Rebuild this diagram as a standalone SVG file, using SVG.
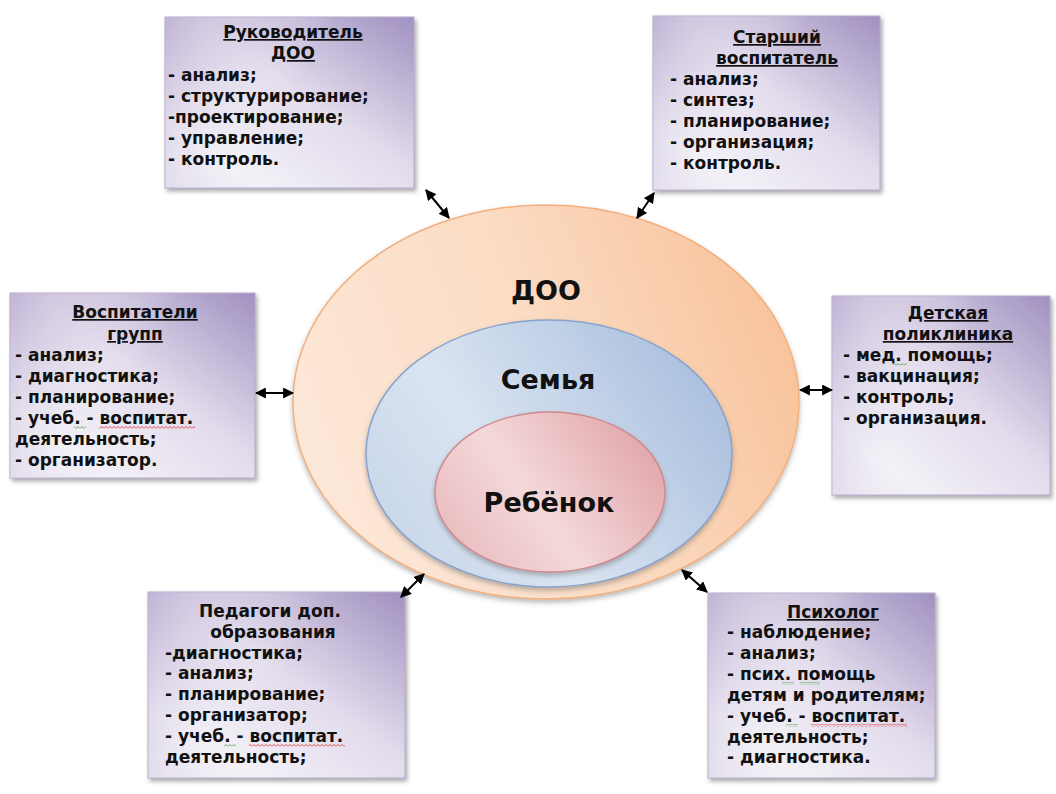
<svg xmlns="http://www.w3.org/2000/svg" width="1056" height="794" viewBox="0 0 1056 794">
<style>
.box{fill:url(#boxg);stroke:#b7abcd;stroke-width:1}
.boxov{fill:url(#boxl)}
.t{font-family:"DejaVu Sans","Liberation Sans",sans-serif;font-weight:bold;font-size:17px;fill:#111}
.tc{text-anchor:middle}
.u{text-decoration:underline}
.big{font-family:"DejaVu Sans","Liberation Sans",sans-serif;font-weight:bold;font-size:27px;fill:#111;text-anchor:middle}
.conn{stroke:#000;stroke-width:2;fill:none;marker-start:url(#ah);marker-end:url(#ah)}
</style>
<defs>
<linearGradient id="boxg" x1="1" y1="0" x2="0" y2="1">
<stop offset="0" stop-color="#a091c0"/>
<stop offset="0.45" stop-color="#e2dbec"/>
<stop offset="0.8" stop-color="#f3f1f7"/>
<stop offset="1" stop-color="#e7e2ef"/>
</linearGradient>
<linearGradient id="boxl" x1="0" y1="0" x2="1" y2="0.4">
<stop offset="0" stop-color="#bcaed2" stop-opacity="0.9"/>
<stop offset="0.35" stop-color="#d9d2e6" stop-opacity="0.3"/>
<stop offset="0.6" stop-color="#ffffff" stop-opacity="0"/>
</linearGradient>
<linearGradient id="orange" x1="0" y1="0.6" x2="1" y2="0.3">
<stop offset="0" stop-color="#fde8d8"/>
<stop offset="0.5" stop-color="#fbdcc4"/>
<stop offset="1" stop-color="#f8c29a"/>
</linearGradient>
<linearGradient id="blue" x1="0" y1="0.7" x2="1" y2="0.2">
<stop offset="0" stop-color="#c9d7ea"/>
<stop offset="0.35" stop-color="#dae4f1"/>
<stop offset="1" stop-color="#a6bddd"/>
</linearGradient>
<linearGradient id="pink" x1="0" y1="0.7" x2="1" y2="0.2">
<stop offset="0" stop-color="#e9bcbf"/>
<stop offset="0.4" stop-color="#f4d9da"/>
<stop offset="1" stop-color="#e0a2a7"/>
</linearGradient>
<filter id="sh" x="-10%" y="-10%" width="125%" height="125%">
<feDropShadow dx="2" dy="3" stdDeviation="2" flood-color="#666" flood-opacity="0.55"/>
</filter>
<filter id="esh" x="-10%" y="-10%" width="120%" height="125%">
<feDropShadow dx="0" dy="3" stdDeviation="2.5" flood-color="#555" flood-opacity="0.4"/>
</filter>
<marker id="ah" viewBox="0 0 10 10" refX="9" refY="5" markerWidth="11" markerHeight="11" markerUnits="userSpaceOnUse" orient="auto-start-reverse">
<path d="M0,0 L10,5 L0,10 z" fill="#000"/>
</marker>
<pattern id="wr" width="4" height="3" patternUnits="userSpaceOnUse">
<path d="M0,2.5 L2,0.5 L4,2.5" stroke="#e02020" stroke-width="0.8" fill="none"/>
</pattern>
<pattern id="wg" width="4" height="3" patternUnits="userSpaceOnUse">
<path d="M0,2.5 L2,0.5 L4,2.5" stroke="#3a9a3a" stroke-width="0.8" fill="none"/>
</pattern>
</defs>
<rect width="1056" height="794" fill="#ffffff"/>

<g id="node-doo">
<ellipse cx="546" cy="402" rx="253" ry="197" fill="url(#orange)" stroke="#f2b07f" stroke-width="1.5" filter="url(#esh)"/>
<text class="big" x="546" y="300">ДОО</text>
</g>
<g id="node-semya">
<ellipse cx="549" cy="453.5" rx="183" ry="133.5" fill="url(#blue)" stroke="#87a3cc" stroke-width="1.5" filter="url(#esh)"/>
<text class="big" x="548" y="389">Семья</text>
</g>
<g id="node-rebenok">
<ellipse cx="550" cy="492" rx="115" ry="80" fill="url(#pink)" stroke="#cf8a90" stroke-width="1.5" filter="url(#esh)"/>
<text class="big" x="549" y="512">Ребёнок</text>
</g>

<g id="node-rukovoditel">
<rect class="box" x="165" y="17" width="249" height="171" filter="url(#sh)"/>
<rect class="boxov" x="165" y="17" width="249" height="171"/>
<text class="t tc u" x="293" y="38">Руководитель</text>
<text class="t tc u" x="293" y="59">ДОО</text>
<text class="t" x="168" y="81">- анализ;</text>
<text class="t" x="168" y="102">- структурирование;</text>
<text class="t" x="168" y="123">-проектирование;</text>
<text class="t" x="168" y="144">- управление;</text>
<text class="t" x="168" y="165">- контроль.</text>
</g>

<g id="node-starshiy">
<rect class="box" x="653" y="16" width="227" height="174" filter="url(#sh)"/>
<rect class="boxov" x="653" y="16" width="227" height="174"/>
<text class="t tc u" x="777" y="43">Старший</text>
<text class="t tc u" x="777" y="64">воспитатель</text>
<text class="t" x="670" y="85">- анализ;</text>
<text class="t" x="670" y="106">- синтез;</text>
<text class="t" x="670" y="127">- планирование;</text>
<text class="t" x="670" y="148">- организация;</text>
<text class="t" x="670" y="169">- контроль.</text>
</g>

<g id="node-vospitateli">
<rect class="box" x="10" y="293" width="245" height="185" filter="url(#sh)"/>
<rect class="boxov" x="10" y="293" width="245" height="185"/>
<text class="t tc u" x="135" y="318">Воспитатели</text>
<text class="t tc u" x="135" y="340">групп</text>
<text class="t" x="15" y="361">- анализ;</text>
<text class="t" x="15" y="382">- диагностика;</text>
<text class="t" x="15" y="403">- планирование;</text>
<text class="t" x="15" y="424">- учеб. - воспитат.</text>
<text class="t" x="15" y="445">деятельность;</text>
<text class="t" x="15" y="466">- организатор.</text>
<rect x="74" y="426" width="12" height="3" fill="url(#wg)"/>
<rect x="99" y="426" width="96" height="3" fill="url(#wr)"/>
</g>

<g id="node-poliklinika">
<rect class="box" x="832" y="296" width="218" height="199" filter="url(#sh)"/>
<rect class="boxov" x="832" y="296" width="218" height="199"/>
<text class="t tc u" x="948" y="319">Детская</text>
<text class="t tc u" x="948" y="340">поликлиника</text>
<text class="t" x="843" y="361">- мед. помощь;</text>
<text class="t" x="843" y="382">- вакцинация;</text>
<text class="t" x="843" y="403">- контроль;</text>
<text class="t" x="843" y="424">- организация.</text>
<rect x="893" y="363" width="14" height="3" fill="url(#wg)"/>
</g>

<g id="node-pedagogi">
<rect class="box" x="148" y="592" width="257" height="186" filter="url(#sh)"/>
<rect class="boxov" x="148" y="592" width="257" height="186"/>
<text class="t tc" x="270" y="617">Педагоги доп.</text>
<text class="t tc" x="273" y="638">образования</text>
<text class="t" x="165" y="659">-диагностика;</text>
<text class="t" x="165" y="679">- анализ;</text>
<text class="t" x="165" y="700">- планирование;</text>
<text class="t" x="165" y="721">- организатор;</text>
<text class="t" x="165" y="742">- учеб. - воспитат.</text>
<text class="t" x="165" y="763">деятельность;</text>
<rect x="224" y="744" width="12" height="3" fill="url(#wg)"/>
<rect x="249" y="744" width="96" height="3" fill="url(#wr)"/>
</g>

<g id="node-psiholog">
<rect class="box" x="708" y="593" width="227" height="185" filter="url(#sh)"/>
<rect class="boxov" x="708" y="593" width="227" height="185"/>
<text class="t tc u" x="833" y="618">Психолог</text>
<text class="t" x="727" y="638">- наблюдение;</text>
<text class="t" x="727" y="659">- анализ;</text>
<text class="t" x="727" y="680">- псих. помощь</text>
<text class="t" x="727" y="701">детям и родителям;</text>
<text class="t" x="727" y="722">- учеб. - воспитат.</text>
<text class="t" x="727" y="743">деятельность;</text>
<text class="t" x="727" y="763">- диагностика.</text>
<rect x="782" y="682" width="12" height="3" fill="url(#wg)"/>
<rect x="800" y="682" width="20" height="3" fill="url(#wg)"/>
<rect x="786" y="724" width="12" height="3" fill="url(#wg)"/>
<rect x="811" y="724" width="96" height="3" fill="url(#wr)"/>
</g>

<g id="connectors">
<line class="conn" x1="426" y1="190" x2="449" y2="218"/>
<line class="conn" x1="654" y1="193" x2="637" y2="218"/>
<line class="conn" x1="256" y1="393" x2="293" y2="393"/>
<line class="conn" x1="800" y1="390" x2="832" y2="390"/>
<line class="conn" x1="424" y1="574" x2="401" y2="597"/>
<line class="conn" x1="682" y1="570" x2="707" y2="592"/>
</g>
</svg>
